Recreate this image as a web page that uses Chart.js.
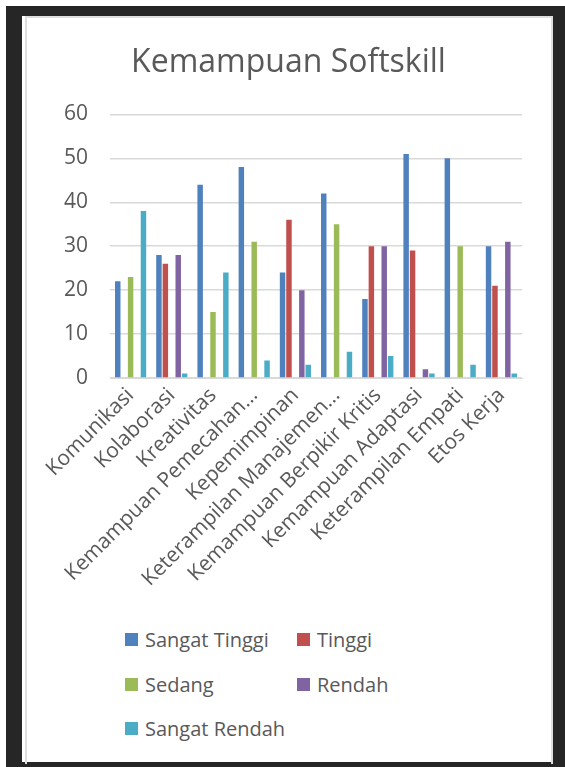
<!DOCTYPE html>
<html>
<head>
<meta charset="utf-8">
<script src="https://cdn.jsdelivr.net/npm/chart.js@4.4.1/dist/chart.umd.min.js"></script>
<style>
  body { margin: 0; background: #fff; font-family: "Open Sans", sans-serif; }
  #frame { position: absolute; left: 6px; top: 6px; width: 559px; height: 761px; background: #262626; }
  #sheet { position: absolute; left: 22px; top: 16px; width: 530px; height: 746px; background: #fff; }
  #edge { position: absolute; left: 3px; top: 0; width: 524px; height: 746px; border: 2px solid #dedede; border-bottom: none; }
  #chartjs_softskill { position: absolute; left: 26px; top: 17px; }
  #legend { position: absolute; left: 125px; top: 626px; width: 300px; }
  .item { position: absolute; display: flex; align-items: center; font-size: 20px; color: #595959; white-space: nowrap; }
  .box { width: 13px; height: 13px; margin-right: 7px; }
</style>
</head>
<body>
<div id="frame"></div>
<div id="sheet"><div id="edge"></div></div>
<canvas id="chartjs_softskill" width="525" height="593"></canvas>
<div id="legend"></div>
<script>
const categories = [
  "Komunikasi",
  "Kolaborasi",
  "Kreativitas",
  "Kemampuan Pemecahan…",
  "Kepemimpinan",
  "Keterampilan Manajemen…",
  "Kemampuan Berpikir Kritis",
  "Kemampuan Adaptasi",
  "Keterampilan Empati",
  "Etos Kerja",
];
const sangatTinggi = [22, 28, 44, 48, 24, 42, 18, 51, 50, 30];
const tinggi = [0, 26, 0, 0, 36, 0, 30, 29, 0, 21];
const sedang = [23, 0, 15, 31, 0, 35, 0, 0, 30, 0];
const rendah = [0, 28, 0, 0, 20, 0, 30, 2, 0, 31];
const sangatRendah = [38, 1, 24, 4, 3, 6, 5, 1, 3, 1];
const yTicks = [0, 10, 20, 30, 40, 50, 60];

const textColor = "#595959";
const gridColor = "#d9d9d9";

function getsoftskillchart() {
  const chart = new Chart(document.getElementById("chartjs_softskill"), {
    type: "bar",
    data: {
      labels: categories,
      datasets: [
        { label: "Sangat Tinggi", backgroundColor: "#4f81bd", data: sangatTinggi },
        { label: "Tinggi", backgroundColor: "#c0504d", data: tinggi },
        { label: "Sedang", backgroundColor: "#9bbb59", data: sedang },
        { label: "Rendah", backgroundColor: "#8064a2", data: rendah },
        { label: "Sangat Rendah", backgroundColor: "#4bacc6", data: sangatRendah },
      ],
    },
    options: {
      responsive: false,
      animation: false,
      categoryPercentage: 0.78,
      barPercentage: 0.85,
      layout: {
        padding: 0,
      },
      plugins: {
        legend: { display: false },
        tooltip: { enabled: false },
        title: {
          display: true,
          text: "Kemampuan Softskill",
          color: textColor,
          font: { family: "Open Sans", size: 32, weight: "normal" },
          padding: { top: 27, bottom: 32 },
        },
      },
      scales: {
        x: {
          afterFit: function (scale) {
            scale.height = 232;
          },
          grid: { display: false, drawTicks: false },
          border: { color: gridColor, width: 1 },
          ticks: {
            color: textColor,
            font: { family: "Open Sans", size: 21 },
            maxRotation: 45,
            minRotation: 45,
            autoSkip: false,
            padding: 5,
          },
        },
        y: {
          min: 0,
          max: 60,
          afterFit: function (scale) {
            scale.width = 84;
          },
          afterBuildTicks: function (scale) {
            scale.ticks = yTicks.map(function (v) { return { value: v }; });
          },
          grid: { color: gridColor, lineWidth: 1.5, drawTicks: false },
          border: { display: false },
          ticks: {
            color: textColor,
            font: { family: "Open Sans", size: 21 },
            padding: 22,
          },
        },
        // empty right-hand margin so the plot ends where the reference does
        spacer: {
          type: "linear",
          position: "right",
          afterFit: function (scale) {
            scale.width = 29;
          },
          grid: { display: false, drawTicks: false },
          border: { display: false },
          ticks: { display: false },
        },
      },
    },
  });
  buildlegend(chart);
}

function buildlegend(chart) {
  // two columns, filled row by row
  const box = document.getElementById("legend");
  chart.data.datasets.forEach(function (ds, i) {
    const item = document.createElement("div");
    item.className = "item";
    item.style.left = (i % 2) * 172 + "px";
    item.style.top = Math.floor(i / 2) * 44.5 + "px";
    const sq = document.createElement("span");
    sq.className = "box";
    sq.style.background = ds.backgroundColor;
    item.appendChild(sq);
    item.appendChild(document.createTextNode(ds.label));
    box.appendChild(item);
  });
}

getsoftskillchart();
</script>
</body>
</html>
